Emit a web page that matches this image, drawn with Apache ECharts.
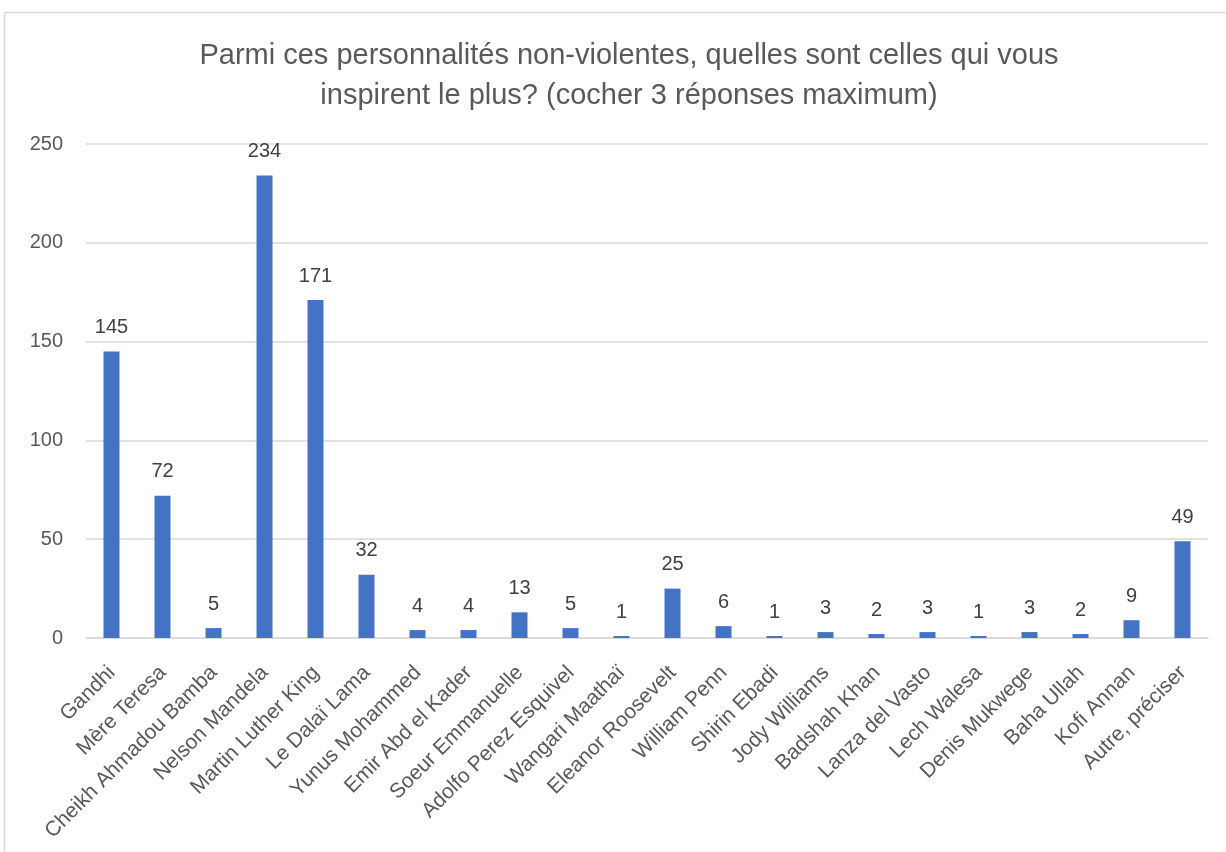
<!DOCTYPE html>
<html>
<head>
<meta charset="utf-8">
<script src="https://cdn.jsdelivr.net/npm/echarts@6/dist/echarts.min.js"></script>
<style>
  html, body { margin: 0; padding: 0; background: #fff; }
  #chart { width: 1226px; height: 852px; }
</style>
</head>
<body>
<div id="chart"></div>
<script>
// personnalités
const categories = [
  'Gandhi', 'Mère Teresa', 'Cheikh Ahmadou Bamba', 'Nelson Mandela', 'Martin Luther King',
  'Le Dalaï Lama', 'Yunus Mohammed', 'Emir Abd el Kader', 'Soeur Emmanuelle', 'Adolfo Perez Esquivel',
  'Wangari Maathaï', 'Eleanor Roosevelt', 'William Penn', 'Shirin Ebadi', 'Jody Williams',
  'Badshah Khan', 'Lanza del Vasto', 'Lech Walesa', 'Denis Mukwege', 'Baha Ullah',
  'Kofi Annan', 'Autre, préciser'
]
const values = [145, 72, 5, 234, 171, 32, 4, 4, 13, 5, 1, 25, 6, 1, 3, 2, 3, 1, 3, 2, 9, 49]
const yTicks = { min: 0, max: 250, interval: 50 }

const chart = echarts.init(document.getElementById('chart'))
const font = 'Liberation Sans'

const option = {
  animation: false,
  backgroundColor: '#fff',
  title: {
    text: 'Parmi ces personnalités non-violentes, quelles sont celles qui vous\ninspirent le plus? (cocher 3 réponses maximum)',
    left: 624,
    top: 31,
    textAlign: 'center',
    textStyle: {
      fontFamily: font,
      fontSize: 29,
      fontWeight: 'normal',
      color: '#595959',
      lineHeight: 40,
    },
  },
  graphic: [
    {
      type: 'rect',
      shape: { x: 4.5, y: 12.5, width: 1260, height: 900 },
      style: { fill: 'none', stroke: '#d9d9d9', lineWidth: 1.5 },
      silent: true,
    },
  ],
  grid: {
    left: 86,
    right: 18,
    top: 144,
    bottom: 214,
  },
  xAxis: {
    type: 'category',
    data: categories,
    axisLine: { lineStyle: { color: '#d9d9d9', width: 1.5 } },
    axisTick: { show: false },
    axisLabel: {
      rotate: 45,
      interval: 0,
      margin: 17,
      padding: [0, 10, 0, 0],
      verticalAlign: 'top',
      fontFamily: font,
      fontSize: 21,
      color: '#595959',
    },
  },
  yAxis: {
    type: 'value',
    min: yTicks.min,
    max: yTicks.max,
    interval: yTicks.interval,
    axisLine: { show: false },
    axisTick: { show: false },
    splitLine: { lineStyle: { color: '#d9d9d9', width: 1.5 } },
    axisLabel: {
      margin: 23,
      fontFamily: font,
      fontSize: 20,
      color: '#595959',
    },
  },
  series: [
    {
      type: 'bar',
      data: values,
      barWidth: 16,
      itemStyle: { color: '#4472C4' },
      label: {
        show: true,
        position: 'top',
        distance: 14,
        fontFamily: font,
        fontSize: 20,
        color: '#404040',
      },
    },
  ],
}

chart.setOption(option)
</script>
</body>
</html>
